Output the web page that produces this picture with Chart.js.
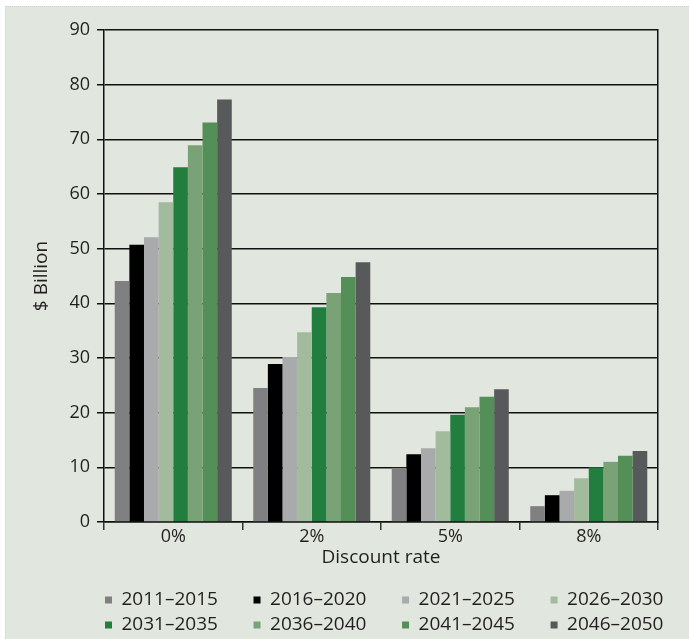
<!DOCTYPE html>
<html>
<head>
<meta charset="utf-8">
<script src="https://cdn.jsdelivr.net/npm/chart.js@4.4.1/dist/chart.umd.min.js"></script>
<style>
  html, body { margin: 0; padding: 0; background: #fff; overflow: hidden; }
  #painel {
    position: absolute; left: 5px; top: 6px; width: 684px; height: 633px;
    box-sizing: border-box; background: #e1e6df;
    border-left: 1px dotted #cfd3cd; border-top: 1px dotted #cfd3cd;
  }
  #grafico { display: block; }
</style>
</head>
<body>
<div id="painel"><canvas id="grafico" width="683" height="632"></canvas></div>
<script>
const categorias = ["0%", "2%", "5%", "8%"]
const periodos = ["2011–2015", "2016–2020", "2021–2025", "2026–2030", "2031–2035", "2036–2040", "2041–2045", "2046–2050"]
const cores = ["#808083", "#000000", "#a9aaac", "#a3bb9d", "#227e3e", "#7aa277", "#538f56", "#58595b"]

const p2011 = [44.1, 24.5, 9.9, 2.9]
const p2016 = [50.7, 28.9, 12.4, 4.9]
const p2021 = [52.1, 30.2, 13.5, 5.7]
const p2026 = [58.5, 34.7, 16.6, 8.0]
const p2031 = [64.9, 39.3, 19.6, 10.0]
const p2036 = [68.9, 41.9, 21.0, 11.0]
const p2041 = [73.1, 44.8, 22.9, 12.1]
const p2046 = [77.3, 47.5, 24.3, 13.0]
const valores = [p2011, p2016, p2021, p2026, p2031, p2036, p2041, p2046]

const corTexto = "#231f20"
const corLinha = "#111111"

Chart.defaults.font.family = "'Open Sans', sans-serif"
Chart.defaults.color = corTexto

// legenda alinhada com o eixo, como no original
const moverLegenda = {
  id: "moverLegenda",
  afterLayout(chart) {
    const lg = chart.legend
    const dx = chart.chartArea.left + 1 - lg.left - lg.options.labels.padding
    lg.left += dx
    lg.right += dx
    lg.top += 5.5
    lg.bottom += 5.5
  }
}

new Chart(document.getElementById("grafico"), {
  type: "bar",
  plugins: [moverLegenda],
  data: {
    labels: categorias,
    datasets: periodos.map((nome, i) => ({
      label: nome,
      data: valores[i],
      backgroundColor: cores[i],
      borderWidth: 0,
      categoryPercentage: 0.845,
      barPercentage: 1.0
    }))
  },
  options: {
    responsive: false,
    animation: false,
    layout: { padding: { top: 23, right: 31, left: 0, bottom: 0 } },
    plugins: {
      tooltip: { enabled: false },
      legend: {
        position: "bottom",
        align: "start",
        labels: {
          boxWidth: 7,
          boxHeight: 7,
          padding: 6,
          color: corTexto,
          font: { size: 19 },
          generateLabels(chart) {
            const itens = Chart.defaults.plugins.legend.labels.generateLabels(chart)
            itens.forEach(item => { item.text = item.text + "      " })
            return itens
          }
        }
      }
    },
    scales: {
      x: {
        grid: { drawOnChartArea: false, drawTicks: true, tickLength: 8, color: "#333333", lineWidth: 1.5, offset: true },
        border: { color: corLinha, width: 1.5 },
        ticks: { color: corTexto, font: { size: 18, lineHeight: 1 }, padding: -2 },
        title: { display: true, text: "Discount rate", color: corTexto, font: { size: 19 }, padding: { top: 0, bottom: 9.6 } },
        afterFit(scale) { scale.height = 57 }
      },
      y: {
        min: 0,
        max: 90,
        ticks: { stepSize: 10, padding: 7, color: corTexto, font: { size: 18 } },
        grid: { color: corLinha, lineWidth: 1.5, tickLength: 7 },
        border: { color: corLinha, width: 1.5 },
        title: { display: true, text: "$ Billion", color: corTexto, font: { size: 19 }, padding: { top: 24.6, bottom: 0 } },
        afterFit(scale) { scale.width = 98 }
      },
      y2: {
        position: "right",
        ticks: { display: false },
        grid: { display: false },
        border: { color: corLinha, width: 1.5 },
        afterFit(scale) { scale.width = 0 }
      }
    }
  }
})
</script>
</body>
</html>
